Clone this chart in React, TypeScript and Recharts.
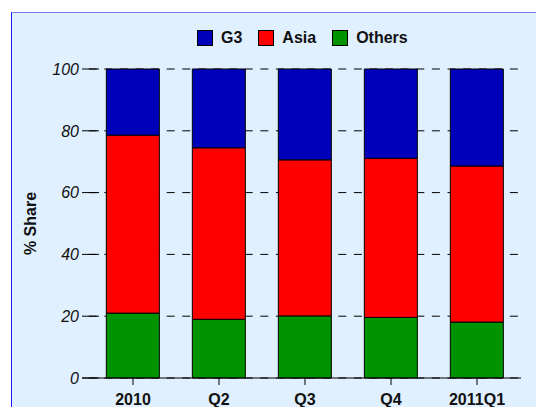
import { BarChart, Bar, XAxis, YAxis, CartesianGrid } from 'recharts';

// Quarterly share by region (%)
const periods = ['2010', 'Q2', 'Q3', 'Q4', '2011Q1'];
const others = [21.0, 19.0, 20.1, 19.6, 18.1];
const asia = [57.6, 55.5, 50.5, 51.5, 50.5];
const g3 = [21.4, 25.5, 29.4, 28.9, 31.4];
const yTicks = [0, 20, 40, 60, 80, 100];

const SERIES = [
  { key: 'g3', name: 'G3', color: '#0000bb' },
  { key: 'asia', name: 'Asia', color: '#ff0000' },
  { key: 'others', name: 'Others', color: '#009300' },
];

const FONT = '"Liberation Sans", Arial, Helvetica, sans-serif';

const chartData = periods.map((p, i) => ({
  period: p,
  others: others[i],
  asia: asia[i],
  g3: g3[i],
}));

// y ticks: short solid mark to the right of the axis, italic label on the left
function YTick(props: any) {
  const { x, y, payload } = props;
  return (
    <g>
      <line x1={x} x2={x + 17} y1={y} y2={y} stroke="#000" strokeWidth={1} />
      <text x={x - 3} y={y} dy="0.36em" textAnchor="end" fontSize={16} fontStyle="italic" fill="#111" fontFamily={FONT}>
        {payload.value}
      </text>
    </g>
  );
}

function LegendBox() {
  return (
    <div style={{ display: 'flex', alignItems: 'center', fontFamily: FONT, fontWeight: 'bold', fontSize: 16, color: '#111' }}>
      {SERIES.map((s, i) => (
        <div key={s.key} style={{ display: 'flex', alignItems: 'center', marginLeft: i === 0 ? 0 : 16 }}>
          <span style={{ display: 'inline-block', width: 14, height: 14, background: s.color, border: '1px solid #000', marginRight: 8 }} />
          <span>{s.name}</span>
        </div>
      ))}
    </div>
  );
}

export default function App() {
  return (
    <div>
      <div
        style={{
          position: 'absolute',
          left: 11,
          top: 12,
          width: 525,
          height: 395,
          boxSizing: 'border-box',
          background: '#e0f0fe',
          borderTop: '1px solid #7777ee',
          borderLeft: '1px solid #1a1aff',
        }}
      />
      <div style={{ position: 'absolute', left: 197, top: 29 }}>
        <LegendBox />
      </div>
      <div style={{ position: 'absolute', left: 0, top: 0 }}>
        <BarChart
          width={536}
          height={407}
          data={chartData}
          margin={{ top: 69, right: 15, bottom: 0, left: 0 }}
          barCategoryGap="19%"
        >
          <CartesianGrid
            horizontal
            vertical={false}
            stroke="#000"
            strokeDasharray="8 7.6"
            strokeDashoffset={8.9}
          />
          <XAxis
            dataKey="period"
            height={29}
            padding={{ left: 8, right: 1 }}
            axisLine={{ stroke: '#000' }}
            tickLine={{ stroke: '#000' }}
            tickSize={7}
            tickMargin={9}
            tick={{ fontSize: 16, fontWeight: 'bold', fill: '#111', fontFamily: FONT }}
          />
          <YAxis
            width={82}
            domain={[0, 100]}
            ticks={yTicks}
            axisLine={false}
            tickLine={false}
            tickSize={0}
            tickMargin={0}
            tick={<YTick />}
            label={{
              value: '% Share',
              angle: -90,
              position: 'insideLeft',
              dx: 25,
              style: { fontSize: 16, fontWeight: 'bold', fill: '#111', fontFamily: FONT, textAnchor: 'middle' },
            }}
          />
          <Bar dataKey="others" name="Others" stackId="a" fill="#009300" stroke="#000" strokeWidth={1} isAnimationActive={false} />
          <Bar dataKey="asia" name="Asia" stackId="a" fill="#ff0000" stroke="#000" strokeWidth={1} isAnimationActive={false} />
          <Bar dataKey="g3" name="G3" stackId="a" fill="#0000bb" stroke="#000" strokeWidth={1} isAnimationActive={false} />
        </BarChart>
      </div>
    </div>
  );
}
